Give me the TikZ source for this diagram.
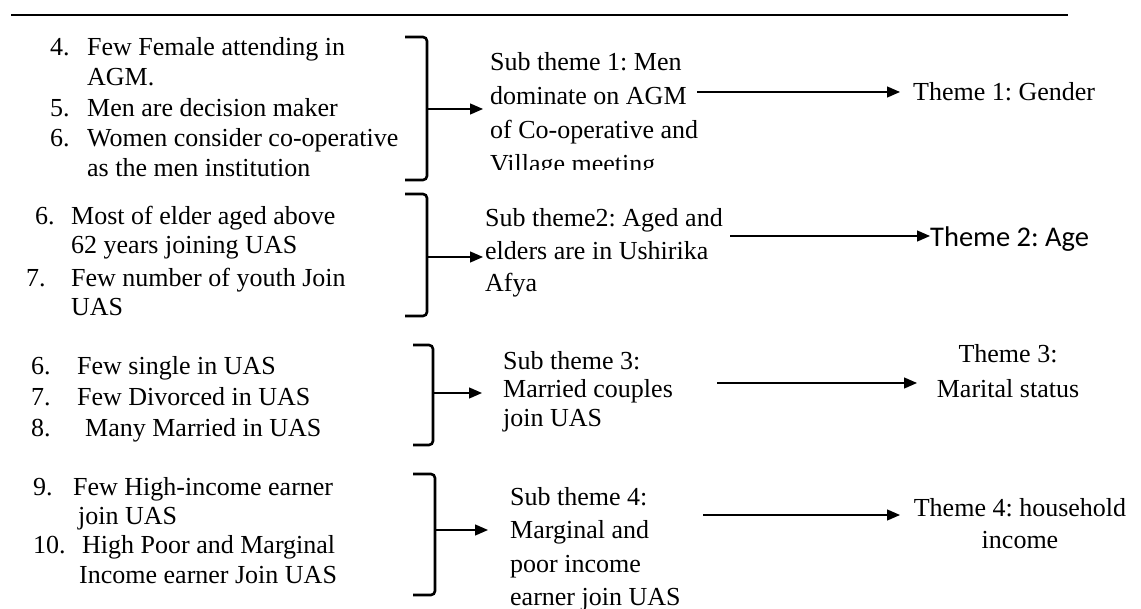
\documentclass[tikz,border=0pt]{standalone}
\usepackage{fontspec}
\setmainfont{Liberation Serif}
\newfontfamily\calfont{Carlito}
\usetikzlibrary{arrows.meta}
\frenchspacing
\begin{document}
\begin{tikzpicture}[x=1pt,y=-1pt,
  txt/.style={anchor=base west,inner sep=0pt,font=\fontsize{26}{30}\selectfont},
  ctxt/.style={anchor=base,inner sep=0pt,font=\fontsize{26}{30}\selectfont},
  brk/.style={line width=2.6pt,rounded corners=4pt},
  arr/.style={line width=1.3pt,-{Triangle[length=13pt,width=11pt]}},
  rulestyle/.style={line width=2.6pt}]
\useasboundingbox (0,0) rectangle (1141,609);
% top rule
\coordinate (r1) at (11,15);
\coordinate (r2) at (1068,15);
\draw[rulestyle] (r1) -- (r2);

% ---------- group 1 ----------
\node[txt] (n4) at (50,56) {4.};
\node[txt] (a1) at (87,56) {Few Female attending in};
\node[txt] (a2) at (87,86) {AGM.};
\node[txt] (n5) at (50,117) {5.};
\node[txt] (a3) at (87,117) {Men are decision maker};
\node[txt] (n6) at (50,147) {6.};
\node[txt] (a4) at (87,147) {Women consider co-operative};
\node[txt] (a5) at (87,177) {as the men institution};
\coordinate (b1t) at (405,37);
\coordinate (b1b) at (405,180);
\draw[brk] (b1t) -- (427,37) -- (427,180) -- (b1b);
\coordinate (b1m) at (427,109);
\coordinate (s1in) at (483,109);
\draw[arr] (b1m) -- (s1in);
\begin{scope}
\clip (480,40) rectangle (720,170);
\node[txt] (s1a) at (490,71) {Sub theme 1: Men};
\node[txt] (s1b) at (490,105) {dominate on AGM};
\node[txt] (s1c) at (490,139) {of Co-operative and};
\node[txt] (s1d) at (490,173) {Village meeting};
\end{scope}
\coordinate (s1out) at (697,92);
\coordinate (t1in) at (900,92);
\draw[arr] (s1out) -- (t1in);
\node[txt] (t1) at (913,101) {Theme 1: Gender};

% ---------- group 2 ----------
\node[txt] (m6) at (35,225) {6.};
\node[txt] (c1) at (71,225) {Most of elder aged above};
\node[txt] (c2) at (71,254) {62 years joining UAS};
\node[txt] (m7) at (26,287) {7.};
\node[txt] (c3) at (71,287) {Few number of youth Join};
\node[txt] (c4) at (71,316) {UAS};
\coordinate (b2t) at (405,194);
\coordinate (b2b) at (405,316);
\draw[brk] (b2t) -- (427,194) -- (427,316) -- (b2b);
\coordinate (b2m) at (427,257);
\coordinate (s2in) at (483,257);
\draw[arr] (b2m) -- (s2in);
\node[txt] (s2a) at (485,227) {Sub theme2: Aged and};
\node[txt] (s2b) at (485,260) {elders are in Ushirika};
\node[txt] (s2c) at (485,292) {Afya};
\coordinate (s2out) at (730,236);
\coordinate (t2in) at (930,236);
\draw[arr] (s2out) -- (t2in);
\node[anchor=base west,inner sep=0pt,font=\calfont\fontsize{28.5}{32}\selectfont] (t2) at (930,247) {Theme 2: Age};

% ---------- group 3 ----------
\node[txt] (k6) at (31,375) {6.};
\node[txt] (d1) at (77,375) {Few single in UAS};
\node[txt] (k7) at (31,406) {7.};
\node[txt] (d2) at (77,406) {Few Divorced in UAS};
\node[txt] (k8) at (31,437) {8.};
\node[txt] (d3) at (85,437) {Many Married in UAS};
\coordinate (b3t) at (413,345);
\coordinate (b3b) at (413,445);
\draw[brk] (b3t) -- (433,345) -- (433,445) -- (b3b);
\coordinate (b3m) at (433,393);
\coordinate (s3in) at (482,393);
\draw[arr] (b3m) -- (s3in);
\node[txt] (s3a) at (503,370) {Sub theme 3:};
\node[txt] (s3b) at (503,398) {Married couples};
\node[txt] (s3c) at (503,427) {join UAS};
\coordinate (s3out) at (717,383);
\coordinate (t3in) at (917,383);
\draw[arr] (s3out) -- (t3in);
\node[ctxt] (t3a) at (1008,363) {Theme 3:};
\node[ctxt] (t3b) at (1008,398) {Marital status};

% ---------- group 4 ----------
\node[txt] (j9) at (33,496) {9.};
\node[txt] (e1) at (73,496) {Few High-income earner};
\node[txt] (e2) at (78,524) {join UAS};
\node[txt] (j10) at (33,553) {10.};
\node[txt] (e3) at (82,553) {High Poor and Marginal};
\node[txt] (e4) at (79,583) {Income earner Join UAS};
\coordinate (b4t) at (413,474);
\coordinate (b4b) at (413,595);
\draw[brk] (b4t) -- (435,474) -- (435,595) -- (b4b);
\coordinate (b4m) at (435,530);
\coordinate (s4in) at (488,530);
\draw[arr] (b4m) -- (s4in);
\node[txt] (s4a) at (510,505) {Sub theme 4:};
\node[txt] (s4b) at (510,538) {Marginal and};
\node[txt] (s4c) at (510,572) {poor income};
\node[txt] (s4d) at (510,605) {earner join UAS};
\coordinate (s4out) at (703,515);
\coordinate (t4in) at (900,515);
\draw[arr] (s4out) -- (t4in);
\node[ctxt] (t4a) at (1020,516) {Theme 4: household};
\node[ctxt] (t4b) at (1020,548) {income};
\end{tikzpicture}
\end{document}
